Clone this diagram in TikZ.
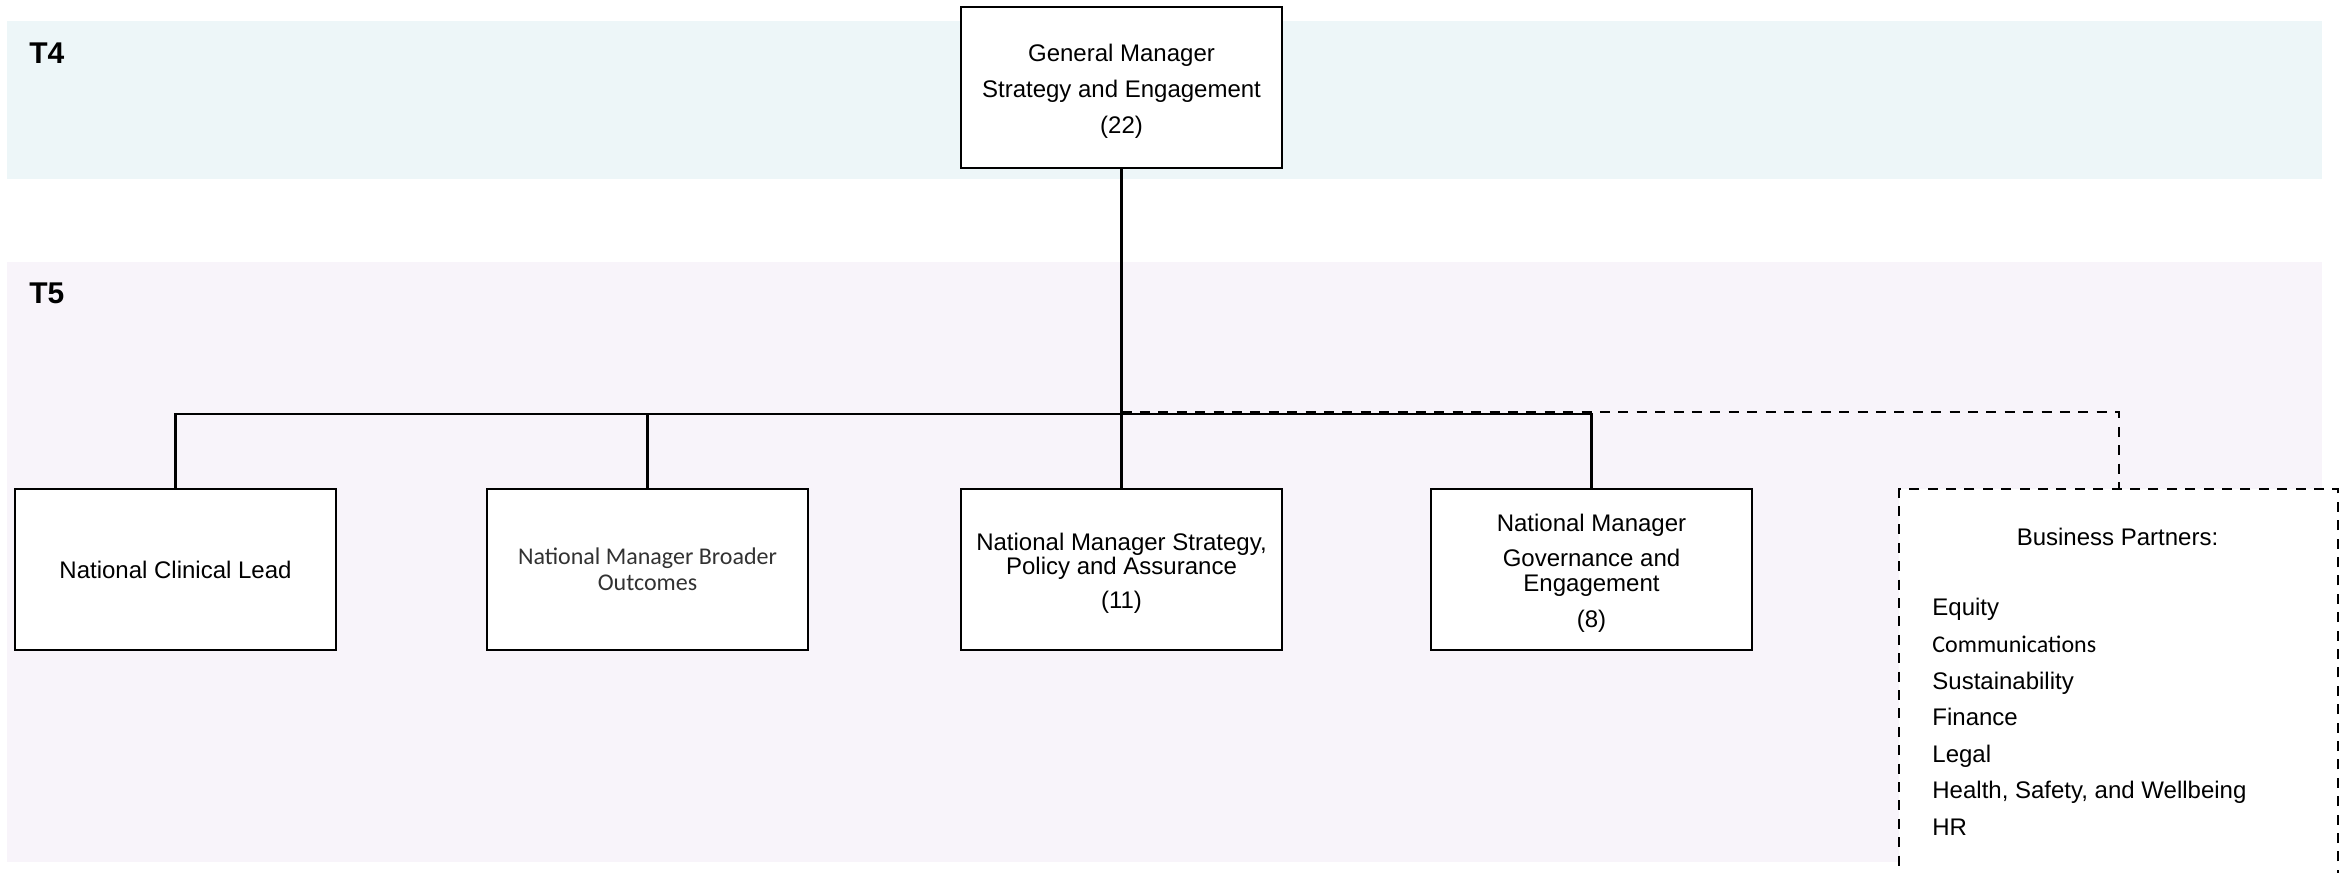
\documentclass[tikz,border=0pt]{standalone}
\usepackage{fontspec}
\setmainfont{Liberation Sans}
\newfontfamily\calfont{Carlito}
\definecolor{bandfour}{RGB}{237,246,248}
\definecolor{bandfive}{RGB}{248,244,250}
\definecolor{softtext}{RGB}{50,50,50}
\newcommand{\topstrut}{\rule{0pt}{12.2pt}}
\begin{document}
\begin{tikzpicture}[x=0.5pt,y=-0.5pt,
  rolebox/.style={draw, line width=1.3pt, fill=white, minimum width=160.5pt,
    minimum height=80.5pt, inner sep=0pt, align=center,
    font=\fontsize{12}{12.5}\selectfont},
  tierlabel/.style={anchor=west, inner sep=0pt, font=\fontsize{15}{18}\selectfont\bfseries},
  conn/.style={line width=1.2pt},
  dotted link/.style={line width=1.2pt, dash pattern=on 5pt off 4.2pt},
]
\clip (0,0) rectangle (2346,873);
\fill[white] (0,0) rectangle (2346,873);

% tier bands
\fill[bandfour] (7,21) rectangle (2322,179);
\fill[bandfive] (7,262) rectangle (2322,862);
\node[tierlabel] (t4) at (29,53.5) {T4};
\node[tierlabel] (t5) at (29,293.5) {T5};

% top role
\node[rolebox, font=\fontsize{12}{18}\selectfont] (gm) at (1121.5,87.5)
  {\topstrut General Manager\\Strategy and Engagement\\(22)};

% second tier roles
\node[rolebox] (c1) at (175.5,569.5) {National Clinical Lead};
\node[rolebox, font=\calfont\fontsize{12}{13}\selectfont, text=softtext] (b2) at (647.5,569.5)
  {National Manager Broader\\Outcomes};
\node[rolebox, font=\fontsize{12}{12}\selectfont] (s3) at (1121.5,569.5)
  {\topstrut National Manager Strategy,\\Policy and Assurance\\[5pt](11)};
\node[rolebox] (g4) at (1591.5,569.5)
  {\topstrut National Manager\\[5pt]Governance and\\Engagement\\[5.5pt](8)};

% business partners panel
\node[draw, dotted link, fill=white, minimum width=219.5pt, minimum height=215pt,
  anchor=north west, inner sep=0pt] (bp) at (1898,488) {};
\node[inner sep=0pt, font=\fontsize{12}{14}\selectfont] (bptitle) at (2117.5,537) {Business Partners:};
\node[inner sep=0pt, anchor=north west, align=left, font=\fontsize{12}{18.3}\selectfont] (bplist) at (1932,598)
  {Equity\\{\calfont Communications}\\Sustainability\\Finance\\Legal\\Health, Safety, and Wellbeing\\HR};

% reporting lines
\coordinate (bus) at (1121.5,414);
\draw[dotted link] ([yshift=1pt]bus) -| (bp.north);
\draw[conn] (gm.south) -- (s3.north);
\draw[conn] (c1.north) |- (bus) -| (g4.north);
\draw[conn] (b2.north) -- (b2.north |- bus);
\end{tikzpicture}
\end{document}
